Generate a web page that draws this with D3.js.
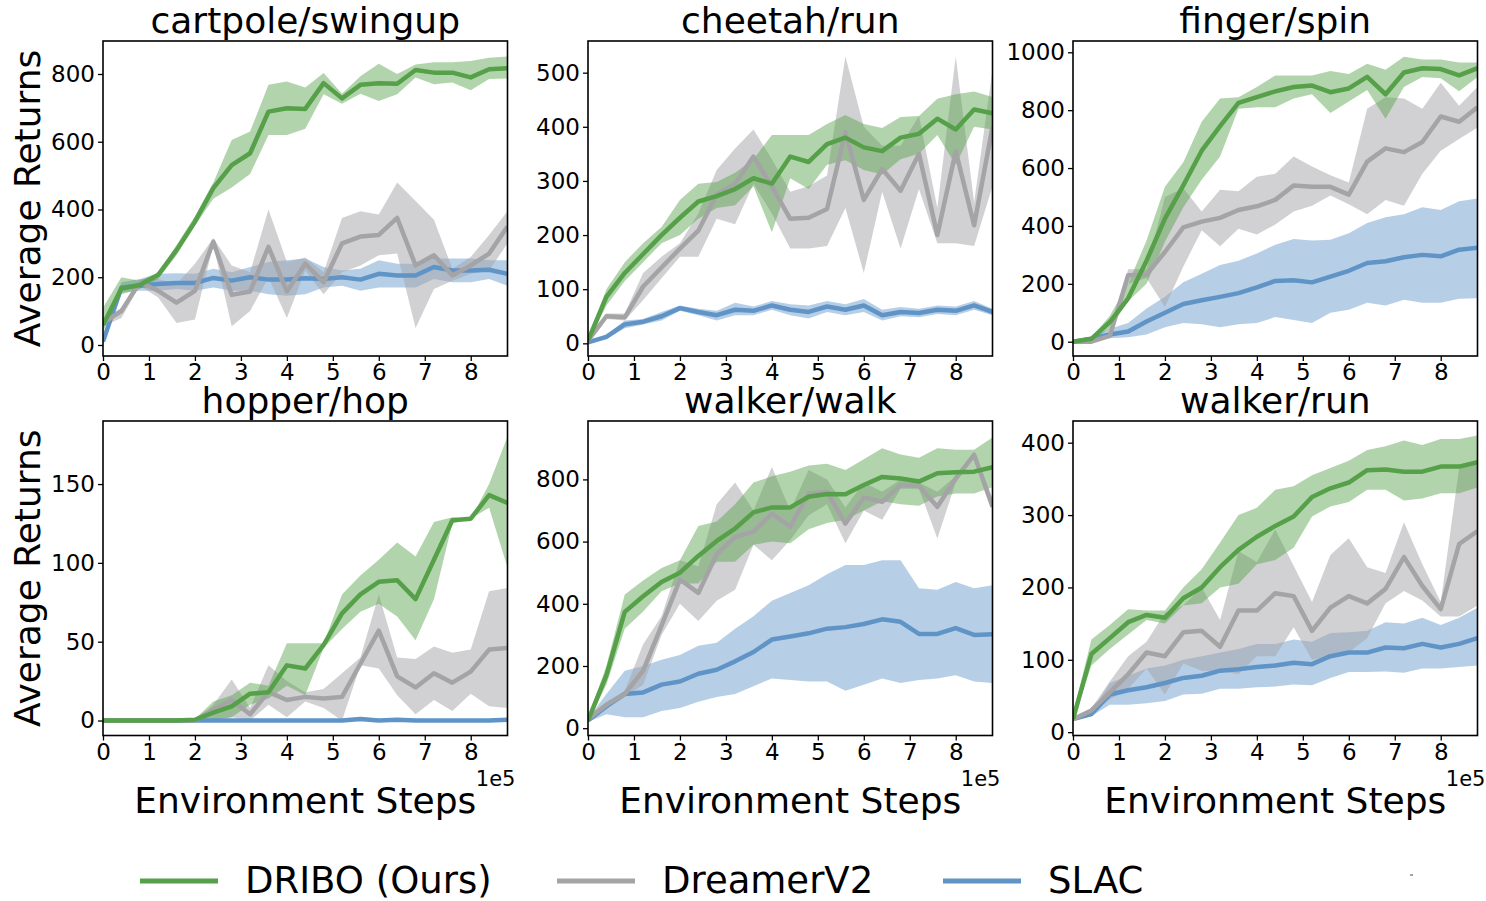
<!DOCTYPE html>
<html>
<head>
<meta charset="utf-8">
<script src="https://cdn.jsdelivr.net/npm/d3@7"></script>
<style>
  body { margin: 0; background: #fff; }
  svg { display: block; }
  text { font-family: "DejaVu Sans", sans-serif; fill: #000; }
</style>
</head>
<body>
<svg id="chart" width="1486" height="901"></svg>
<script>
// Environment steps (in units of 1e5)
const steps = [0, 0.4, 0.8, 1.2, 1.6, 2.0, 2.4, 2.8, 3.2, 3.6, 4.0, 4.4, 4.8, 5.2, 5.6, 6.0, 6.4, 6.8, 7.2, 7.6, 8.0, 8.4, 8.8];
const xTicks = [0, 1, 2, 3, 4, 5, 6, 7, 8];
const methods = ["DRIBO (Ours)", "DreamerV2", "SLAC"];

// cartpole/swingup
const cartpoleDribo      = [59,167,177,207,280,364,463,531,566,689,699,697,773,728,768,773,771,812,804,804,790,814,817];
const cartpoleDriboLow   = [40,150,165,195,265,352,432,465,505,620,620,638,740,712,742,720,740,790,770,775,752,785,787];
const cartpoleDriboHigh  = [110,200,190,215,295,380,480,605,630,768,778,760,803,742,793,830,800,828,835,835,838,848,852];
const cartpoleDreamer     = [65,100,185,160,125,160,305,148,158,290,158,240,185,300,320,325,375,235,265,205,235,270,350];
const cartpoleDreamerLow  = [55,80,175,140,65,75,295,55,100,200,80,220,150,215,235,265,270,50,165,190,210,220,300];
const cartpoleDreamerHigh = [75,110,195,195,180,240,315,235,215,400,245,258,215,375,395,385,480,425,370,225,260,325,395];
const cartpoleSlac      = [10,170,175,180,183,183,198,190,200,193,193,197,195,200,193,210,205,205,230,220,220,222,210];
const cartpoleSlacLow   = [0,155,160,160,165,160,170,160,160,150,145,150,170,175,160,170,170,170,195,185,185,195,175];
const cartpoleSlacHigh  = [20,185,195,210,212,210,225,215,230,245,250,255,230,220,225,250,240,240,255,255,255,250,250];
const cartpoleTicks = [0, 200, 400, 600, 800];

// cheetah/run
const cheetahDribo      = [5,86,130,165,200,232,262,272,285,305,295,345,335,368,380,362,355,380,387,415,395,432,425];
const cheetahDriboLow   = [0,70,115,150,185,200,230,250,255,290,205,305,285,330,338,320,312,340,350,385,330,400,395];
const cheetahDriboHigh  = [10,100,150,185,215,265,295,298,315,340,385,385,385,405,422,405,398,418,420,452,460,465,455];
const cheetahDreamer     = [5,50,48,105,140,175,208,275,295,345,290,230,232,248,390,265,322,282,350,200,355,218,400];
const cheetahDreamerLow  = [2,45,42,80,120,160,160,230,220,295,240,175,175,180,250,130,280,175,285,185,185,180,290];
const cheetahDreamerHigh = [8,55,55,130,160,185,240,320,360,395,340,280,290,310,530,400,365,365,420,250,530,260,505];
const cheetahSlac      = [2,12,35,40,50,65,58,52,62,60,70,62,58,68,62,70,52,58,56,62,60,70,58];
const cheetahSlacLow   = [0,8,28,35,42,60,52,42,52,52,62,52,46,58,52,58,42,50,48,54,52,62,52];
const cheetahSlacHigh  = [4,16,42,45,58,70,64,60,75,68,78,72,70,78,72,82,62,67,64,70,68,78,64];
const cheetahTicks = [0, 100, 200, 300, 400, 500];

// finger/spin
const fingerDribo      = [0,10,68,150,280,425,540,660,745,825,845,865,880,885,862,875,915,855,930,945,942,920,945];
const fingerDriboLow   = [-2,5,45,140,200,345,465,560,640,805,810,810,840,855,790,830,870,770,880,915,910,865,915];
const fingerDriboHigh  = [2,14,90,200,350,535,620,760,840,845,880,920,920,920,935,925,960,940,985,975,975,965,965];
const fingerDreamer     = [0,0,20,230,232,310,395,415,428,455,468,490,540,535,535,508,622,668,655,690,778,760,810];
const fingerDreamerLow  = [-2,-2,15,200,220,120,260,385,330,390,370,405,450,470,505,475,440,490,470,580,660,700,740];
const fingerDreamerHigh = [2,2,25,250,250,500,530,450,525,520,570,580,640,605,575,550,805,845,840,805,895,815,880];
const fingerSlac      = [0,10,25,35,70,100,130,143,155,168,188,210,212,205,225,245,272,278,292,300,295,318,325];
const fingerSlacLow   = [-2,5,12,15,25,50,65,60,50,60,65,85,75,65,100,110,135,125,145,135,135,148,150];
const fingerSlacHigh  = [2,15,45,65,115,155,205,235,265,280,305,335,355,350,352,375,410,430,440,465,455,485,495];
const fingerTicks = [0, 200, 400, 600, 800, 1000];

// hopper/hop
const hopperDribo      = [0,0,0,0,0,0.5,5,9,17,18,35,33,48,68,80,88,89,77,102,127,128,143,138];
const hopperDriboLow   = [0,0,0,0,0,0,0,2,10,14,22,16,46,58,69,74,66,51,77,125,128,135,97];
const hopperDriboHigh  = [0,0,0,0,0.5,1,12,16,24,22,49,49,49,80,92,102,113,104,126,129,128,150,180];
const hopperDreamer     = [0,0,0,0,0,0,7,13,4,18,13,15,14,15,36,57,28,21,30,24,31,45,46];
const hopperDreamerLow  = [0,0,0,0,0,0,0,2,0,10,2,12,8,0,35,33,16,4,13,6,17,9,8];
const hopperDreamerHigh = [0,0,0,0,0,0,10,26,8,35,25,18,20,30,40,80,40,39,47,43,45,82,84];
const hopperSlac      = [0,0,0,0,0,0,0,0,0,0,0,0,0,0,1,0,0.5,0,0,0,0,0,0.5];
const hopperSlacLow   = [-0.8,-0.8,-0.8,-0.8,-0.8,-0.8,-0.8,-0.8,-0.8,-0.8,-0.8,-0.8,-0.8,-0.8,0.2,-0.8,-0.3,-0.8,-0.8,-0.8,-0.8,-0.8,-0.3];
const hopperSlacHigh  = [0.8,0.8,0.8,0.8,0.8,0.8,0.8,0.8,0.8,0.8,0.8,0.8,0.8,0.8,1.8,0.8,1.3,0.8,0.8,0.8,0.8,0.8,1.3];
const hopperTicks = [0, 50, 100, 150];

// walker/walk
const walkDribo      = [25,170,374,424,470,500,554,602,642,694,710,710,744,753,752,782,808,803,793,820,823,825,839];
const walkDriboLow   = [18,140,320,375,440,465,465,535,535,590,600,595,640,660,670,700,730,720,715,745,755,755,775];
const walkDriboHigh  = [35,200,430,475,515,540,650,665,720,790,810,825,845,850,830,865,900,880,870,900,895,895,935];
const walkDreamer     = [30,75,110,185,330,478,435,560,615,632,690,648,755,760,658,742,728,782,779,712,803,879,712];
const walkDreamerLow  = [28,65,100,140,300,400,345,410,445,590,540,605,685,720,595,700,670,770,770,610,790,870,700];
const walkDreamerHigh = [32,85,120,270,360,540,520,720,790,700,840,700,830,800,710,790,760,800,790,760,810,890,740];
const walkSlac      = [25,70,110,115,140,150,175,188,215,245,285,295,305,320,325,335,350,342,303,303,322,300,302];
const walkSlacLow   = [20,45,35,35,55,65,85,100,110,135,160,155,150,150,120,140,160,145,155,160,170,150,145];
const walkSlacHigh  = [30,110,185,200,220,235,265,275,320,360,410,435,460,495,525,525,540,540,450,445,470,450,460];
const walkTicks = [0, 200, 400, 600, 800];

// walker/run
const runDribo      = [18,108,130,152,162,158,185,200,228,252,270,285,298,325,337,345,362,363,360,360,367,367,373];
const runDriboLow   = [15,92,115,135,155,150,175,178,200,205,232,238,255,298,312,318,335,335,320,323,330,330,338];
const runDriboHigh  = [25,128,148,170,168,168,200,225,262,300,310,335,340,355,365,375,390,395,403,397,405,405,410];
const runDreamer     = [18,30,55,80,110,105,138,140,118,168,168,192,188,140,172,188,178,198,242,202,170,260,278];
const runDreamerLow  = [16,27,45,60,88,52,95,85,85,80,105,105,145,100,105,110,130,178,195,182,160,160,175];
const runDreamerHigh = [20,33,70,105,125,165,175,200,155,250,235,280,230,180,245,268,228,220,290,232,180,365,375];
const runSlac      = [18,25,52,58,62,68,75,78,85,87,90,92,96,94,105,110,110,117,116,122,117,122,130];
const runSlacLow   = [16,22,38,38,40,43,52,53,60,60,62,63,66,65,75,83,83,84,82,88,88,90,92];
const runSlacHigh  = [20,28,68,78,88,92,100,105,110,115,122,122,128,125,137,138,140,152,150,158,148,158,172];
const runTicks = [0, 100, 200, 300, 400];

// Method colours: line colour, band drawn translucent in same hue
const colors = { dribo: "#55a048", dreamer: "#a4a4a7", slac: "#6094c7" };

// Panel layout: 3 columns x 2 rows
const svg = d3.select("#chart");
const colLeft = [103, 588, 1073];
const rowTop = [41, 421];
const plotW = 404.5;
const plotH = [315, 314.5];

const panels = [
  { title: "cartpole/swingup", col: 0, row: 0, ticks: cartpoleTicks, yDomain: [-32.5, 897.4],
    series: { dribo: [cartpoleDribo, cartpoleDriboLow, cartpoleDriboHigh], dreamer: [cartpoleDreamer, cartpoleDreamerLow, cartpoleDreamerHigh], slac: [cartpoleSlac, cartpoleSlacLow, cartpoleSlacHigh] } },
  { title: "cheetah/run", col: 1, row: 0, ticks: cheetahTicks, yDomain: [-23.4, 558.5],
    series: { dribo: [cheetahDribo, cheetahDriboLow, cheetahDriboHigh], dreamer: [cheetahDreamer, cheetahDreamerLow, cheetahDreamerHigh], slac: [cheetahSlac, cheetahSlacLow, cheetahSlacHigh] } },
  { title: "finger/spin", col: 2, row: 0, ticks: fingerTicks, yDomain: [-49.4, 1039],
    series: { dribo: [fingerDribo, fingerDriboLow, fingerDriboHigh], dreamer: [fingerDreamer, fingerDreamerLow, fingerDreamerHigh], slac: [fingerSlac, fingerSlacLow, fingerSlacHigh] } },
  { title: "hopper/hop", col: 0, row: 1, ticks: hopperTicks, yDomain: [-9.5, 190],
    series: { dribo: [hopperDribo, hopperDriboLow, hopperDriboHigh], dreamer: [hopperDreamer, hopperDreamerLow, hopperDreamerHigh], slac: [hopperSlac, hopperSlacLow, hopperSlacHigh] } },
  { title: "walker/walk", col: 1, row: 1, ticks: walkTicks, yDomain: [-23.5, 987.8],
    series: { dribo: [walkDribo, walkDriboLow, walkDriboHigh], dreamer: [walkDreamer, walkDreamerLow, walkDreamerHigh], slac: [walkSlac, walkSlacLow, walkSlacHigh] } },
  { title: "walker/run", col: 2, row: 1, ticks: runTicks, yDomain: [-4.6, 430],
    series: { dribo: [runDribo, runDriboLow, runDriboHigh], dreamer: [runDreamer, runDreamerLow, runDreamerHigh], slac: [runSlac, runSlacLow, runSlacHigh] } }
];

// Bands first, then mean lines; DRIBO drawn last so it sits on top
const drawOrder = ["slac", "dreamer", "dribo"];

panels.forEach((p, idx) => {
  const left = colLeft[p.col];
  const top = rowTop[p.row];
  const h = plotH[p.row];
  const x = d3.scaleLinear().domain([0, 8.8]).range([left, left + plotW]);
  const y = d3.scaleLinear().domain(p.yDomain).range([top + h, top]);

  const clipId = "clip" + idx;
  svg.append("clipPath").attr("id", clipId)
    .append("rect").attr("x", left).attr("y", top).attr("width", plotW).attr("height", h);

  const g = svg.append("g").attr("clip-path", `url(#${clipId})`);

  const area = d3.area()
    .x((d, i) => x(steps[i]))
    .y0(d => y(d[0]))
    .y1(d => y(d[1]));
  const line = d3.line()
    .x((d, i) => x(steps[i]))
    .y(d => y(d));

  drawOrder.forEach(key => {
    const [, lo, hi] = p.series[key];
    g.append("path")
      .datum(lo.map((v, i) => [v, hi[i]]))
      .attr("d", area)
      .attr("fill", colors[key])
      .attr("fill-opacity", key === "dreamer" ? 0.5 : 0.45)
      .attr("stroke", "none");
  });
  drawOrder.forEach(key => {
    const [mean] = p.series[key];
    g.append("path")
      .datum(mean)
      .attr("d", line)
      .attr("fill", "none")
      .attr("stroke", colors[key])
      .attr("stroke-width", 4.5)
      .attr("stroke-linejoin", "round");
  });

  // Axes
  const yAxis = svg.append("g")
    .attr("transform", `translate(${left},0)`)
    .call(d3.axisLeft(y).tickValues(p.ticks).tickSize(5).tickPadding(3).tickFormat(d3.format("d")));
  const xAxis = svg.append("g")
    .attr("transform", `translate(0,${top + h})`)
    .call(d3.axisBottom(x).tickValues(xTicks).tickSize(5).tickPadding(3).tickFormat(d3.format("d")));
  [yAxis, xAxis].forEach(a => {
    a.select(".domain").remove();
    a.selectAll(".tick line").attr("stroke", "#000").attr("stroke-width", 1.3);
    a.selectAll(".tick text").attr("font-size", 23).attr("font-family", "DejaVu Sans").attr("fill", "#000");
  });

  // Frame
  svg.append("rect")
    .attr("x", left).attr("y", top).attr("width", plotW).attr("height", h)
    .attr("fill", "none").attr("stroke", "#000").attr("stroke-width", 1.6);

  // Title
  svg.append("text")
    .attr("x", left + plotW / 2).attr("y", top - 8)
    .attr("text-anchor", "middle").attr("font-size", 36)
    .text(p.title);

  if (p.col === 0) {
    svg.append("text")
      .attr("transform", `translate(40,${top + h / 2}) rotate(-90)`)
      .attr("text-anchor", "middle").attr("font-size", 36)
      .text("Average Returns");
  }
  if (p.row === 1) {
    svg.append("text")
      .attr("x", left + plotW / 2).attr("y", 813)
      .attr("text-anchor", "middle").attr("font-size", 36)
      .text("Environment Steps");
    // scale factor shown below the x-axis, right-aligned
    svg.append("text")
      .attr("x", left + plotW + 8).attr("y", 786)
      .attr("text-anchor", "end").attr("font-size", 21)
      .text("1e5");
  }
});

// Legend row
const legendX = [140, 557, 943];
const legendKeys = ["dribo", "dreamer", "slac"];
const legend = svg.append("g");
legendKeys.forEach((key, i) => {
  legend.append("line")
    .attr("x1", legendX[i]).attr("x2", legendX[i] + 78)
    .attr("y1", 881).attr("y2", 881)
    .attr("stroke", colors[key]).attr("stroke-width", 5);
  legend.append("text")
    .attr("x", legendX[i] + 105).attr("y", 893)
    .attr("font-size", 37)
    .text(methods[i]);
});
// small stray dash at the far end of the legend row
legend.append("line")
  .attr("x1", 1410).attr("x2", 1413).attr("y1", 875).attr("y2", 875)
  .attr("stroke", "#444").attr("stroke-width", 1);
</script>
</body>
</html>
